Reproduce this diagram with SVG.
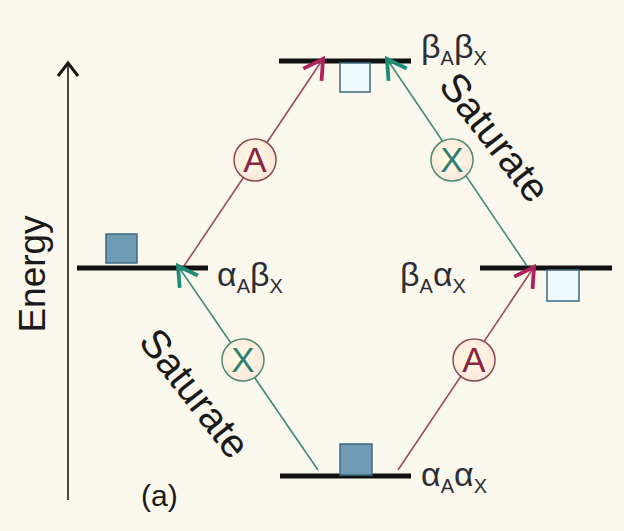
<svg xmlns="http://www.w3.org/2000/svg" width="624" height="531" viewBox="0 0 624 531">
<style>
.lvl{stroke:#111;stroke-width:5;stroke-linecap:butt}
.lbl{font-family:"Liberation Sans","DejaVu Sans",sans-serif;font-size:34px;fill:#2e2e36}
.sub{font-size:20px}
.red{stroke:#9a4a62;stroke-width:1.6;fill:none}
.teal{stroke:#3f8a7c;stroke-width:1.6;fill:none}
.filled{fill:#6f9bb5;stroke:#3d6a80;stroke-width:1.5}
.empty{fill:#eef9fb;stroke:#3d6a80;stroke-width:1.5}
.big{font-family:"Liberation Sans","DejaVu Sans",sans-serif;fill:#1a1a1a}
.circA{fill:url(#cg);stroke:#8a4a52;stroke-width:1.5}
.circX{fill:url(#cg);stroke:#4f8a72;stroke-width:1.5}
.tA{font-family:"Liberation Sans",sans-serif;font-size:35px;fill:#8a2444;text-anchor:middle}
.tX{font-family:"Liberation Sans",sans-serif;font-size:35px;fill:#2a8070;text-anchor:middle}
</style>
<defs>
<radialGradient id="cg" cx="0.45" cy="0.45" r="0.6">
<stop offset="0" stop-color="#fffbe2"/>
<stop offset="1" stop-color="#fbe6dc"/>
</radialGradient>
<marker id="mr" viewBox="-3 -3 30 30" refX="22" refY="11" markerWidth="30" markerHeight="30" markerUnits="userSpaceOnUse" orient="auto">
<path d="M3,0 L22,11 L3,22" fill="none" stroke="#b0205a" stroke-width="3.8"/>
</marker>
<marker id="mt" viewBox="-3 -3 30 30" refX="22" refY="11" markerWidth="30" markerHeight="30" markerUnits="userSpaceOnUse" orient="auto">
<path d="M3,0 L22,11 L3,22" fill="none" stroke="#1f8a76" stroke-width="3.8"/>
</marker>
</defs>
<rect width="624" height="531" fill="#faf7ec"/>

<g id="axis">
<line x1="68" y1="500" x2="68" y2="64" stroke="#1a1a1a" stroke-width="1.6"/>
<path d="M58,76 L68,63 L78,76" fill="none" stroke="#1a1a1a" stroke-width="3"/>
<text class="big" font-size="37" text-anchor="middle" transform="translate(45,274) rotate(-90)">Energy</text>
</g>

<g id="node-bAbX">
<line class="lvl" x1="279" y1="61" x2="411" y2="61"/>
<rect class="empty" x="340" y="63" width="30" height="29"/>
<text class="lbl" x="421" y="58">β<tspan class="sub" dy="7">A</tspan><tspan dy="-7">β</tspan><tspan class="sub" dy="7">X</tspan></text>
</g>

<g id="node-aAbX">
<line class="lvl" x1="77" y1="268" x2="208" y2="268"/>
<rect class="filled" x="106" y="234" width="31" height="29"/>
<text class="lbl" x="217" y="286">α<tspan class="sub" dy="7">A</tspan><tspan dy="-7">β</tspan><tspan class="sub" dy="7">X</tspan></text>
</g>

<g id="node-bAaX">
<line class="lvl" x1="480" y1="268" x2="612" y2="268"/>
<rect class="empty" x="547" y="270" width="32" height="31"/>
<text class="lbl" x="400" y="286">β<tspan class="sub" dy="7">A</tspan><tspan dy="-7">α</tspan><tspan class="sub" dy="7">X</tspan></text>
</g>

<g id="node-aAaX">
<line class="lvl" x1="280" y1="476" x2="411" y2="476"/>
<rect class="filled" x="340" y="444" width="32" height="31"/>
<text class="lbl" x="421" y="486">α<tspan class="sub" dy="7">A</tspan><tspan dy="-7">α</tspan><tspan class="sub" dy="7">X</tspan></text>
</g>

<g id="connectors">
<line class="red" x1="184" y1="266" x2="323" y2="59" marker-end="url(#mr)"/>
<line class="teal" x1="318" y1="470" x2="178" y2="266" marker-end="url(#mt)"/>
<line class="red" x1="398" y1="470" x2="534" y2="267" marker-end="url(#mr)"/>
<line class="teal" x1="527" y1="266" x2="387" y2="59" marker-end="url(#mt)"/>
<g id="labelA1"><circle class="circA" cx="255" cy="160" r="21"/><text class="tA" x="255" y="172">A</text></g>
<g id="labelX1"><circle class="circX" cx="452" cy="160" r="21"/><text class="tX" x="452" y="172">X</text></g>
<g id="labelX2"><circle class="circX" cx="243" cy="360" r="21"/><text class="tX" x="243" y="372">X</text></g>
<g id="labelA2"><circle class="circA" cx="474" cy="360" r="21"/><text class="tA" x="474" y="372">A</text></g>
<text class="big" font-size="40" text-anchor="middle" dominant-baseline="central" transform="translate(495,137) rotate(52)">Saturate</text>
<text class="big" font-size="40" text-anchor="middle" dominant-baseline="central" transform="translate(195,393) rotate(52)">Saturate</text>
</g>

<text class="big" font-size="30" x="141" y="506">(a)</text>
</svg>
